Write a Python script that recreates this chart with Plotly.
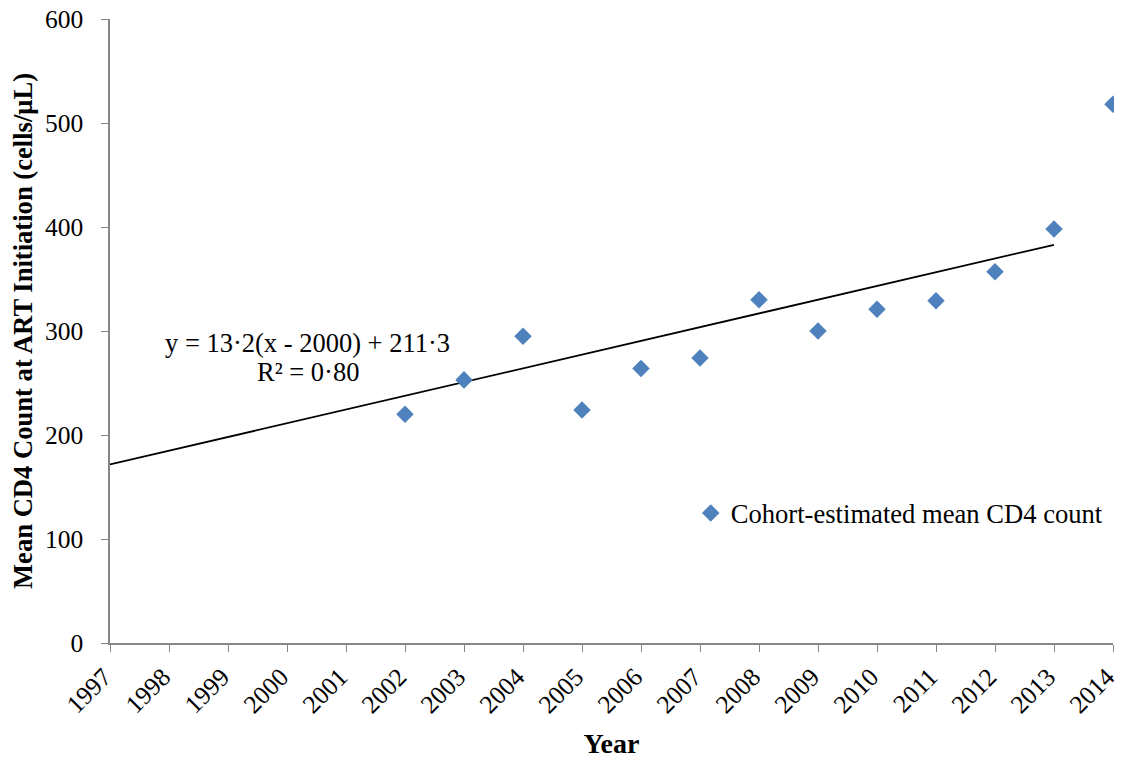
import plotly.graph_objects as go

years = [2002, 2003, 2004, 2005, 2006, 2007, 2008, 2009, 2010, 2011, 2012, 2013, 2014]
mean_cd4 = [220, 253, 295, 224, 264, 274, 330, 300, 321, 329, 357, 398, 518]
trend_slope = 13.2
trend_intercept = 211.3
trend_years = [1997, 2013]
trend_vals = [trend_slope * (y - 2000) + trend_intercept for y in trend_years]
tick_years = list(range(1997, 2015))
series_name = "Cohort-estimated mean CD4 count"

FONT = "Liberation Serif, Times New Roman, serif"

fig = go.Figure()
fig.add_trace(go.Scatter(
    x=trend_years, y=trend_vals, mode="lines",
    line=dict(color="black", width=1.8), showlegend=False, hoverinfo="skip",
))
fig.add_trace(go.Scatter(
    x=years, y=mean_cd4, mode="markers", name=series_name,
    marker=dict(symbol="diamond", size=13.5, color="#4F81BD"),
    cliponaxis=False,
))

fig.add_annotation(
    x=0.197, y=0.481, xref="paper", yref="paper", xanchor="center",
    text="y = 13·2(x - 2000) + 211·3",
    showarrow=False, align="center",
    font=dict(family=FONT, size=26.5, color="black"),
)
fig.add_annotation(
    x=0.197, y=0.434, xref="paper", yref="paper", xanchor="center",
    text="R² = 0·80",
    showarrow=False, align="center",
    font=dict(family=FONT, size=26.5, color="black"),
)

fig.update_layout(
    width=1114, height=751,
    margin=dict(l=102, r=9, t=11, b=116),
    paper_bgcolor="white", plot_bgcolor="white",
    font=dict(family=FONT, color="black"),
    showlegend=True,
    legend=dict(x=0.579, y=0.208, xanchor="left", yanchor="middle",
                font=dict(family=FONT, size=26.6, color="black"),
                bgcolor="rgba(0,0,0,0)"),
    xaxis=dict(
        range=[1997, 2014], tickmode="array", tickvals=tick_years,
        ticktext=[str(t) for t in tick_years], tickangle=-45,
        showgrid=False, zeroline=False, showline=True, linecolor="#868686",
        linewidth=1.5, ticks="outside", ticklen=7, tickcolor="#868686",
        tickfont=dict(family=FONT, size=25.5, color="black"),
        ticklabelshift=-6, ticklabeloverflow="allow",
        automargin=False,
        title=dict(text="<b>Year</b>", font=dict(family=FONT, size=28, color="black"), standoff=21),
    ),
    yaxis=dict(
        range=[0, 600], tickvals=[0, 100, 200, 300, 400, 500, 600],
        showgrid=False, zeroline=False, showline=True, linecolor="#868686",
        linewidth=1.5, ticks="outside", ticklen=7, tickcolor="#868686",
        tickfont=dict(family=FONT, size=25.5, color="black"),
        ticklabelstandoff=13, ticklabeloverflow="allow",
        automargin=False,
        title=dict(text="<b>Mean CD4 Count at ART Initiation (cells/μL)</b>",
                   font=dict(family=FONT, size=26.6, color="black"), standoff=8),
    ),
)

fig.write_html("out.html")
